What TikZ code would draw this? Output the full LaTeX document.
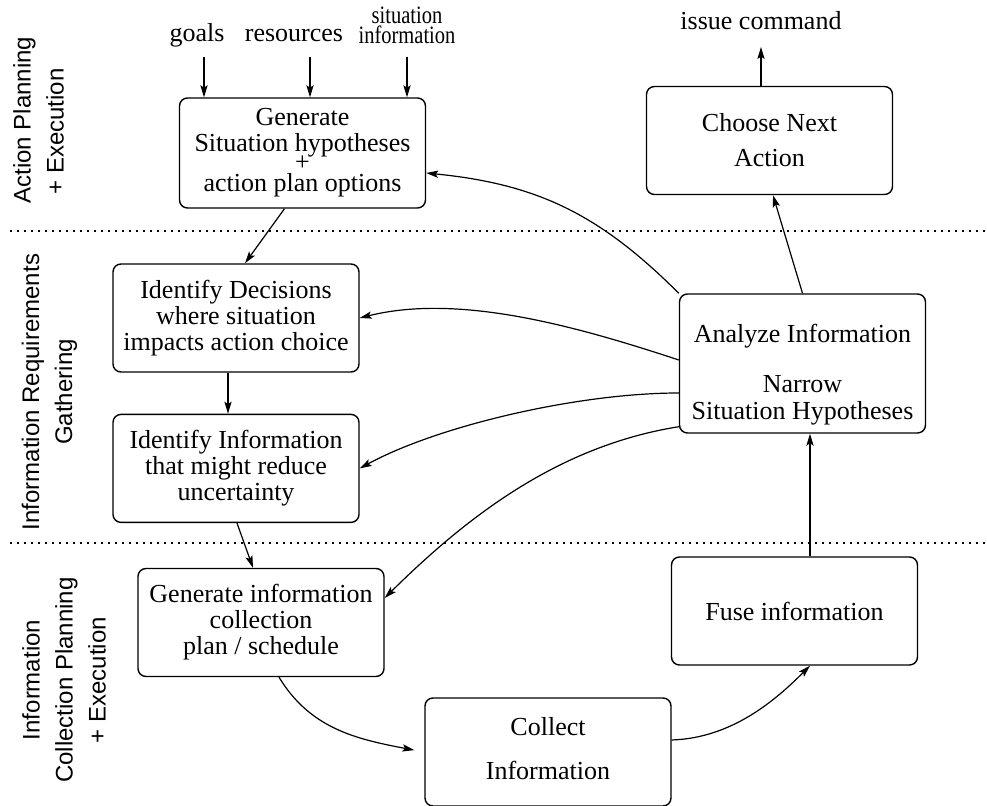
\documentclass[tikz,border=0pt]{standalone}
\usepackage{fontspec}
\setmainfont{Liberation Serif}
\setsansfont{Liberation Sans}
\usetikzlibrary{positioning}
\usetikzlibrary{arrows.meta}

\tikzset{
  stage/.style={draw, rounded corners=4pt, line width=0.7pt, align=center,
    minimum width=123pt, minimum height=54pt, inner sep=2pt,
    font=\fontsize{13}{13}\selectfont},
  band/.style={rotate=90, font=\sffamily\fontsize{12}{16.5}\selectfont},
  input/.style={inner sep=0pt, font=\fontsize{13}{13}\selectfont},
  flow/.style={-{Stealth[length=6pt,width=3.6pt,inset=1.2pt]}, line width=0.6pt},
  divider/.style={line width=1pt, dash pattern=on 1pt off 2.5pt}
}

\begin{document}
\begin{tikzpicture}[x=0.5pt, y=-0.5pt]
    \useasboundingbox (0,0) rectangle (987,806);
    % section labels %
    \node[band, align=left] (bandA) at (38.5,120) {Action Planning\\\hspace*{4.5pt}+ Execution};
    \node[band, align=center] (bandB) at (49.5,392) {Information Requirements\\Gathering};
    \node[band, align=center] (bandC) at (64,680) {Information\\Collection Planning\\+ Execution};
    \draw[divider] (10,231) -- (985,231);
    \draw[divider] (10,543) -- (985,543);
    % nodes %
    \node[stage, minimum height=55pt] (gen) at (302.5,153) {Generate\\Situation hypotheses\\[-3.5pt]+\\[-2.5pt]action plan options};
    \node[stage] (choose) at (769.5,140.5) {Choose Next\\[4.5pt]Action};
    \node[stage] (decide) at (236,318) {Identify Decisions\\where situation\\impacts action choice};
    \node[stage, below=20.5pt of decide] (identify) {Identify Information\\that might reduce\\uncertainty};
    \node[stage, minimum height=69.5pt] (analyze) at (802.5,363.5) {\mbox{}\\[7pt]Analyze Information\\[12pt]Narrow\\[0.5pt]Situation Hypotheses};
    \node[stage] (collplan) at (261,622.5) {Generate information\\collection\\plan / schedule};
    \node[stage] (fuse) at (794.5,611) {Fuse information};
    \node[stage] (collect) at (548,752) {Collect\\[9pt]Information\\[-9pt]\mbox{}};
    \node[input, anchor=base] (goals) at (197,42) {goals};
    \node[input, anchor=base] (resources) at (294,42) {resources};
    \node[input, anchor=south, align=center, font=\fontsize{12.5}{8.8}\selectfont] (situation) at (407,44)
        {\scalebox{0.82}[1]{situation}\\\scalebox{0.82}[1]{information}};
    \node[input, anchor=base] (issue) at (761,30) {issue command};
    % edges %
    \draw[flow] ([xshift=3.5pt,yshift=-7.5pt]goals.base) -- ([xshift=3.5pt]goals.base |- gen.north);
    \draw[flow] ([xshift=8pt,yshift=-7.5pt]resources.base) -- ([xshift=8pt]resources.base |- gen.north);
    \draw[flow] ([yshift=-6.5pt]situation.south) -- (situation.south |- gen.north);
    \draw[flow] (issue.base |- choose.north) -- ([yshift=-8.5pt]issue.base);
    \draw[flow] ([xshift=-9pt]gen.south) -- ([xshift=4.5pt]decide.north);
    \draw[flow] ([xshift=-4pt]decide.south) -- ([xshift=-4pt]identify.north);
    \draw[flow] ([xshift=0.5pt]identify.south) -- ([xshift=-4pt]collplan.north);
    \draw[flow, shorten >=5pt] ([xshift=9pt]collplan.south) .. controls +(31,51) and +(-69,-13) .. (collect.west);
    \draw[flow] ([yshift=6pt]collect.east) .. controls +(60,-2) and +(-35,35) .. ([xshift=7.75pt]fuse.south);
    \draw[flow] ([xshift=7.75pt]fuse.north) -- ([xshift=7.75pt]fuse.north |- analyze.south);
    \draw[flow] (analyze.north) -- ([xshift=1.75pt]choose.south);
    \draw[flow] (analyze.north west) .. controls +(-80,-80) and +(110,11) .. ([yshift=-10pt]gen.east);
    \draw[flow] ([yshift=1.75pt]analyze.west) .. controls +(-100,-33) and +(100,-25) .. (decide.east);
    \draw[flow] ([yshift=-14.75pt]analyze.west) .. controls +(-100,0) and +(79,-43) .. (identify.east);
    \draw[flow] ([yshift=3.5pt]analyze.south west) .. controls +(-119,19) and +(84,-83) .. ([yshift=12.25pt]collplan.east);
\end{tikzpicture}
\end{document}
